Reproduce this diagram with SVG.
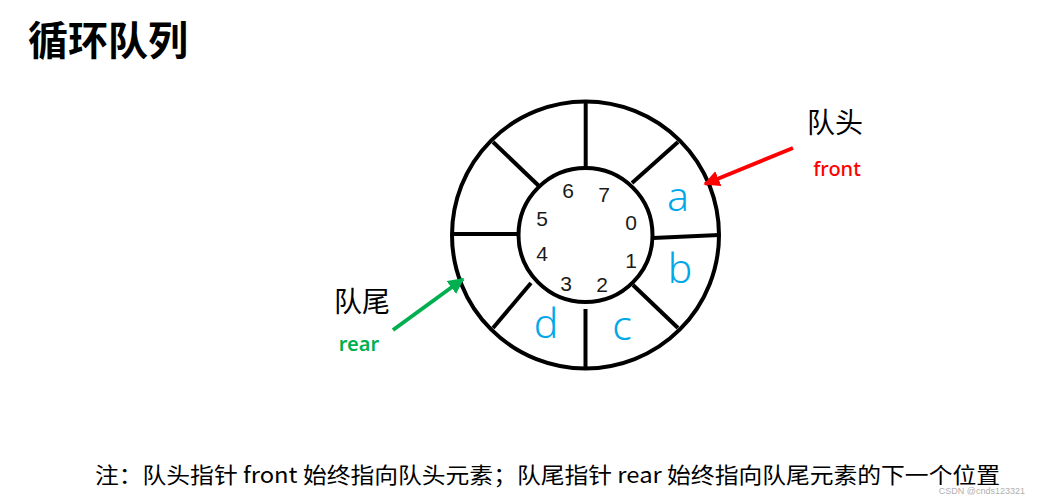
<svg xmlns="http://www.w3.org/2000/svg" width="1039" height="503" viewBox="0 0 1039 503">
<style>
.cjk{font-family:"Noto Sans CJK SC","Liberation Sans",sans-serif;fill:#000}
.ring{fill:none;stroke:#000;stroke-width:4}
.div{stroke:#000;stroke-width:4;stroke-linecap:butt}
.num{font-family:"Liberation Sans","Noto Sans",sans-serif;font-size:21px;fill:#1a1a1a;text-anchor:middle}
.el{font-family:"Noto Sans","Liberation Sans",sans-serif;font-size:41px;fill:#00A8E8;text-anchor:middle;font-weight:300}
</style>
<defs>
<marker id="ar" viewBox="0 0 10 10" refX="9" refY="5" markerWidth="4" markerHeight="4" orient="auto" markerUnits="strokeWidth"><path d="M0,0 L10,5 L0,10 z" fill="#FF0000"/></marker>
<marker id="ag" viewBox="0 0 10 10" refX="9" refY="5" markerWidth="4" markerHeight="4" orient="auto" markerUnits="strokeWidth"><path d="M0,0 L10,5 L0,10 z" fill="#00B050"/></marker>
</defs>
<rect width="1039" height="503" fill="#fff"/>
<text id="title" x="28" y="55" class="cjk" font-size="40" font-weight="600">循环队列</text>
<g id="queue">
<circle class="ring" cx="585.5" cy="235" r="133.5"/>
<circle class="ring" cx="585.5" cy="235" r="67"/>
<line class="div" x1="585.7" y1="101" x2="585.7" y2="168"/>
<line class="div" x1="632" y1="183" x2="678" y2="142"/>
<line class="div" x1="653" y1="238" x2="719" y2="235"/>
<line class="div" x1="633" y1="285" x2="678" y2="328"/>
<line class="div" x1="585.5" y1="309" x2="585.5" y2="369"/>
<line class="div" x1="531" y1="283" x2="493" y2="328"/>
<line class="div" x1="452" y1="234" x2="518" y2="234"/>
<line class="div" x1="540" y1="187" x2="493" y2="142"/>
<text class="num" x="568" y="198">6</text>
<text class="num" x="604" y="202">7</text>
<text class="num" x="631" y="230">0</text>
<text class="num" x="631" y="268">1</text>
<text class="num" x="602" y="292">2</text>
<text class="num" x="566" y="291">3</text>
<text class="num" x="542" y="261">4</text>
<text class="num" x="542" y="226">5</text>
<text class="el" x="678" y="211">a</text>
<text class="el" x="680" y="283">b</text>
<text class="el" x="622" y="340">c</text>
<text class="el" x="546" y="338">d</text>
</g>
<g id="front">
<text x="835" y="133" class="cjk" font-size="28" text-anchor="middle">队头</text>
<text x="837" y="176" font-family="Noto Sans,Liberation Sans,sans-serif" font-size="20" fill="#FF0000" text-anchor="middle" font-weight="500">front</text>
</g>
<g id="rear">
<text x="362" y="312" class="cjk" font-size="28" text-anchor="middle">队尾</text>
<text x="359" y="351" font-family="Noto Sans,Liberation Sans,sans-serif" font-size="20" fill="#00B050" text-anchor="middle" font-weight="600">rear</text>
</g>
<g id="connectors">
<line x1="793" y1="148" x2="705" y2="184" stroke="#FF0000" stroke-width="4" marker-end="url(#ar)"/>
<line x1="393" y1="330" x2="463" y2="279" stroke="#00B050" stroke-width="4" marker-end="url(#ag)"/>
</g>
<text id="note" x="95" y="483" class="cjk" font-size="22" textLength="905" lengthAdjust="spacingAndGlyphs">注：队头指针 front 始终指向队头元素；队尾指针 rear 始终指向队尾元素的下一个位置</text>
<text id="wm" x="1025" y="494" font-family="Liberation Sans,sans-serif" font-size="9" fill="#b0b0b0" text-anchor="end">CSDN @cnds123321</text>
</svg>
